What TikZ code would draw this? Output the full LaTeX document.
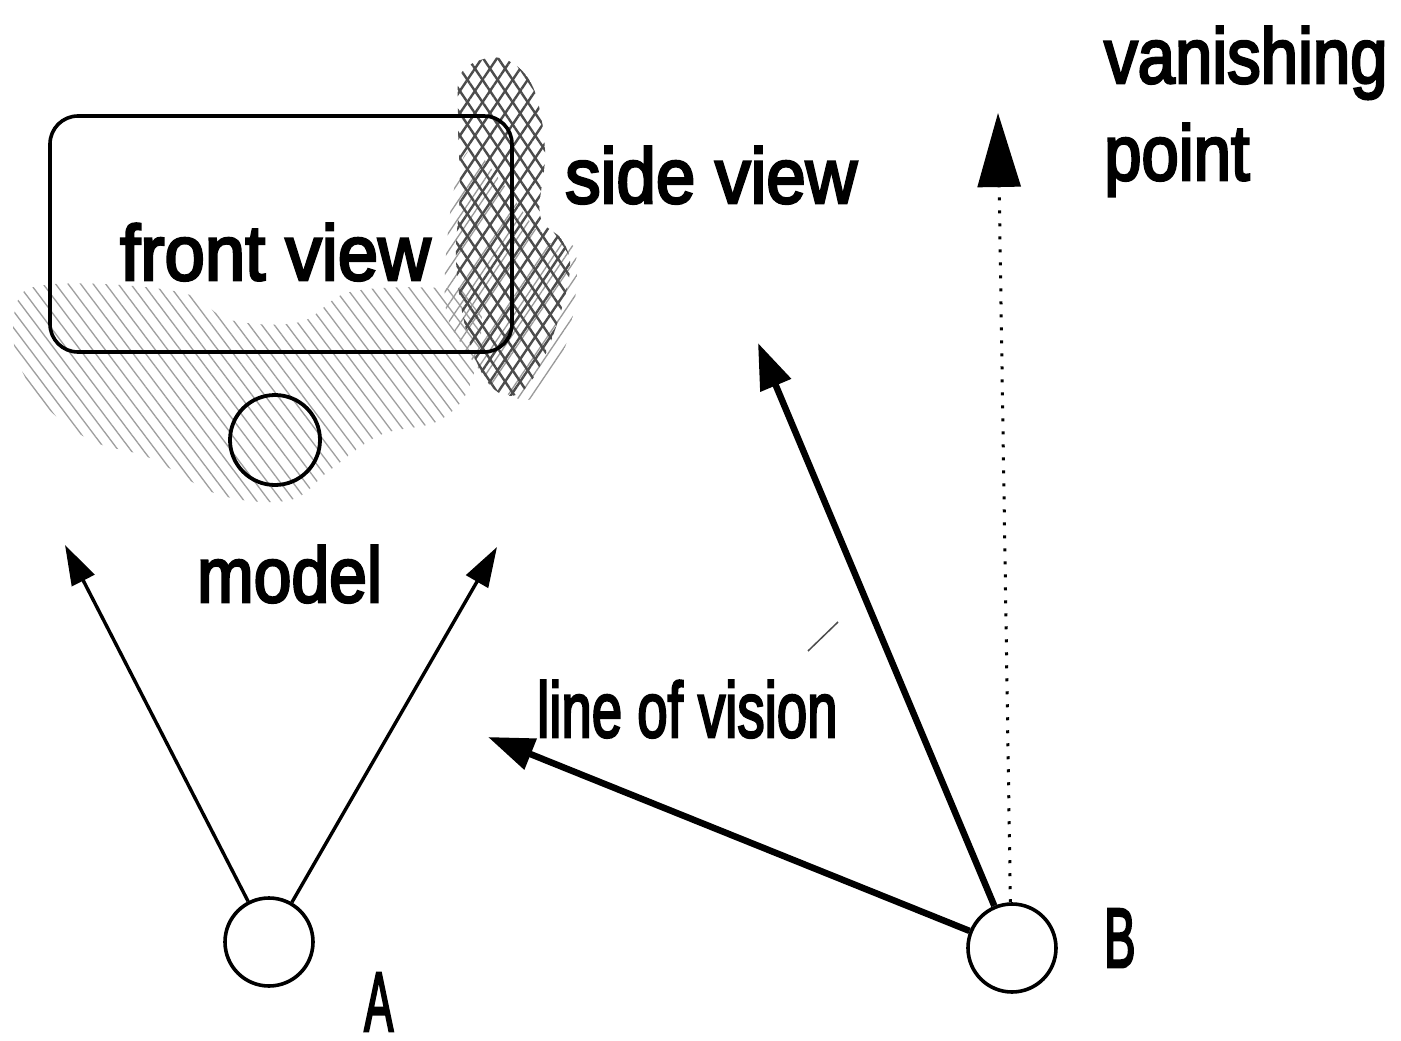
\documentclass[tikz,border=0pt]{standalone}
\usepackage{fontspec}
\setmainfont{Liberation Sans}
\newfontfamily\lblfont{Liberation Sans}[FakeBold=3.5]
\usetikzlibrary{patterns.meta,arrows.meta}
\newcommand\sqz[2]{\scalebox{#1}[1]{#2}}
\begin{document}
\begin{tikzpicture}[x=1pt,y=-1pt,
  lbl/.style={inner sep=0pt, anchor=base west, font=\fontsize{78}{90}\lblfont},
  biglbl/.style={inner sep=0pt, anchor=base west, font=\fontsize{84}{96}\lblfont},
  ring/.style={circle, draw, line width=3.6pt, minimum size=88pt, inner sep=0pt},
  thinarrow/.style={line width=3.4pt, -{Triangle[length=40pt,width=25pt]}},
  thickarrow/.style={line width=6.5pt, -{Triangle[length=46pt,width=32pt]}},
  dotarrow/.style={line width=3pt, dash pattern=on 3pt off 10pt, -{Triangle[length=74pt,width=43pt]}},
  hatchA/.style={pattern={Lines[angle=-53,distance=10pt,line width=1.3pt]}, pattern color=black!38},
  hatchP/.style={pattern={Lines[angle=56,distance=12.5pt,line width=2.4pt]}, pattern color=black!70},
  hatchN/.style={pattern={Lines[angle=-56,distance=12.5pt,line width=2.4pt]}, pattern color=black!70},
  hatchS/.style={pattern={Lines[angle=56,distance=10pt,line width=1.3pt]}, pattern color=black!40},
]
\useasboundingbox (0,0) rectangle (1401,1041);
\fill[white] (0,0) rectangle (1401,1041);

% diagonal shading below the model
\path[hatchA] plot[smooth cycle, tension=0.6] coordinates {
  (18,300) (45,285) (120,285) (190,295) (230,320) (300,322) (350,292)
  (440,288) (480,300) (472,380) (440,420) (380,435) (330,470) (290,500)
  (220,495) (150,458) (90,440) (40,400) (15,350)};
% single-direction strips beside the crosshatch
\path[hatchS] plot[smooth cycle, tension=0.6] coordinates {
  (445,300) (452,200) (470,150) (500,180) (545,240) (575,250) (570,330)
  (540,395) (500,390) (462,345)};
% crosshatched side region
\path[hatchP] plot[smooth cycle, tension=0.6] coordinates {
  (462,72) (500,58) (532,85) (545,150) (540,215) (562,240) (570,270)
  (555,330) (532,380) (510,396) (486,380) (466,330) (456,260) (460,190) (458,120)};
\path[hatchN] plot[smooth cycle, tension=0.6] coordinates {
  (462,72) (500,58) (532,85) (545,150) (540,215) (562,240) (570,270)
  (555,330) (532,380) (510,396) (486,380) (466,330) (456,260) (460,190) (458,120)};

% model
\node[draw, rounded corners=28pt, line width=3.6pt, minimum width=462pt,
      minimum height=236pt, inner sep=0pt] (box) at (281,234) {};
\node[lbl] (fronttxt) at (120,280) {\sqz{0.93}{front view}};
\node[circle, draw, line width=3.8pt, minimum size=90pt, inner sep=0pt] (ball) at (275,440) {};
\node[lbl] (modeltxt) at (197,602) {\sqz{0.87}{model}};
\node[lbl] (sidetxt) at (565,203) {\sqz{0.91}{side view}};

% observers
\node[ring] (a) at (269,942) {};
\node[ring] (b) at (1012,948) {};
\node[biglbl] (alab) at (364,1031) {\sqz{0.52}{A}};
\node[biglbl] (blab) at (1104,967) {\sqz{0.56}{B}};

% arrow end points
\coordinate (al) at (65,545);
\coordinate (ar) at (497,547);
\coordinate (bl) at (488,737);
\coordinate (bu) at (758,343);
\coordinate (vp) at (998,113);

\draw[thinarrow] (a) -- (al);
\draw[thinarrow] (a) -- (ar);
\draw[thickarrow] (b) -- (bl);
\draw[thickarrow] (b) -- (bu);
\draw[dotarrow] (b.92) -- (vp);

\node[lbl] (lov) at (537,737) {\sqz{0.70}{line of vision}};
\node[lbl] (van) at (1104,83) {\sqz{0.86}{vanishing}};
\node[lbl] (pnt) at (1104,180) {\sqz{0.86}{point}};

% stray mark
\coordinate (m1) at (808,651);
\coordinate (m2) at (838,622);
\draw[line width=1.5pt, black!70] (m1) -- (m2);
\end{tikzpicture}
\end{document}
